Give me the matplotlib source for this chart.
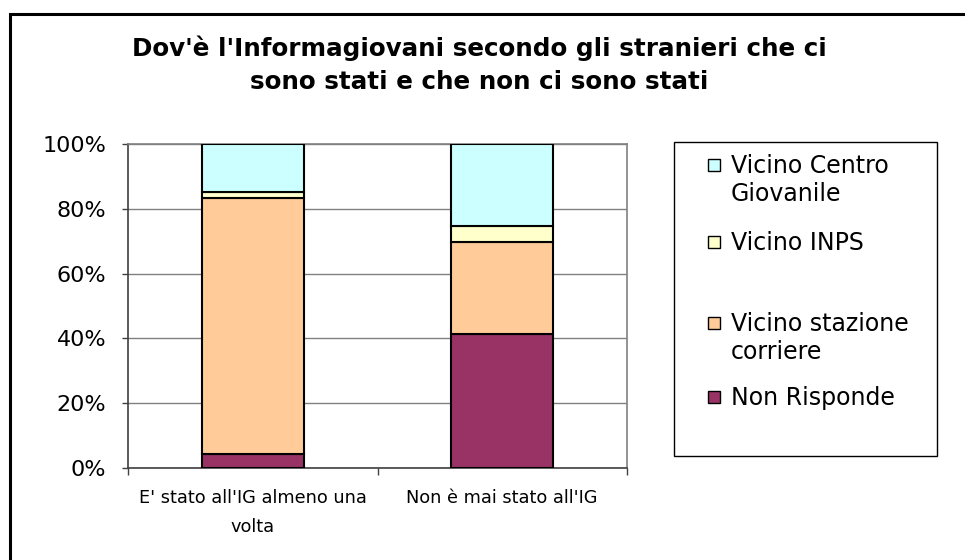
import matplotlib
matplotlib.use("Agg")
import matplotlib.pyplot as plt
from matplotlib.patches import Rectangle
from matplotlib.ticker import PercentFormatter

# ------------------ DATA ------------------

categories = ["E' stato all'IG almeno una\nvolta", "Non è mai stato all'IG"]
series_names = ["Non Risponde", "Vicino stazione\ncorriere", "Vicino INPS",
                "Vicino Centro\nGiovanile"]
non_risponde = [4.2, 41.3]
stazione = [79.1, 28.3]
inps = [2.0, 5.0]
centro = [14.7, 25.4]
colors = ["#993366", "#FFCC99", "#FFFFCC", "#CCFFFF"]

title = "Dov'è l'Informagiovani secondo gli stranieri che ci\nsono stati e che non ci sono stati"

# ------------------ PLOT ------------------

plt.rcParams['font.family'] = ['DejaVu Sans']

fig = plt.figure(figsize=(9.65, 5.6), dpi=100)
ax = fig.add_axes([0.133, 0.1643, 0.5164, 0.5786])

values = [non_risponde, stazione, inps, centro]
x = list(range(len(categories)))
bottom = [0.0] * len(categories)
for vals, col, name in zip(values, colors, series_names):
    ax.bar(x, vals, width=0.41, bottom=bottom, color=col,
           edgecolor="black", linewidth=1.5, label=name, zorder=3)
    bottom = [b + v for b, v in zip(bottom, vals)]

ax.set_xlim(-0.5, 1.5)
ax.set_ylim(0, 100)
ax.set_yticks(range(0, 101, 20))
ax.yaxis.set_major_formatter(PercentFormatter(decimals=0))
ax.grid(axis="y", color="#808080", linewidth=1.0, zorder=0)

# category labels centred, ticks between categories
ax.set_xticks(x)
ax.set_xticklabels(categories, fontsize=12.8, linespacing=1.8)
ax.tick_params(axis="x", length=0, pad=15)
ax.set_xticks([-0.5, 0.5, 1.5], minor=True)
ax.tick_params(axis="x", which="minor", length=5, width=1, color="#404040")
ax.tick_params(axis="y", labelsize=16, length=4, width=1, color="#404040", pad=12)

for s in ["top", "right"]:
    ax.spines[s].set_color("#808080")
ax.spines["left"].set_color("#404040")
ax.spines["bottom"].set_color("#404040")
for s in ax.spines.values():
    s.set_linewidth(1.2)

fig.text(0.497, 1 - 65 / 560, title, ha="center", va="center", fontsize=17.7,
         fontweight="bold", linespacing=1.45)

# legend box (Excel style: square aligned to first text line)
fig.patches.append(Rectangle((674 / 965, 1 - 456 / 560), (937 - 674) / 965,
                             (456 - 142) / 560, transform=fig.transFigure,
                             fill=False, edgecolor="black", linewidth=1.0))
cap_top = [155, 232, 313, 387]
legend_items = list(zip(series_names, colors))[::-1]
for (name, col), py in zip(legend_items, cap_top):
    fig.patches.append(Rectangle((708 / 965, 1 - (py + 16) / 560), 12 / 965,
                                 12 / 560, transform=fig.transFigure,
                                 facecolor=col, edgecolor="black", linewidth=1.0))
    fig.text(731 / 965, 1 - (py - 1) / 560, name, ha="left", va="top",
             fontsize=17, linespacing=1.22)

# outer chart border
fig.patches.append(Rectangle((10 / 965, -0.1), 1.2, 1 - 14 / 560 + 0.1,
                             transform=fig.transFigure, fill=False,
                             edgecolor="black", linewidth=2.2))

fig.savefig("out.png", dpi=100)
plt.close(fig)
